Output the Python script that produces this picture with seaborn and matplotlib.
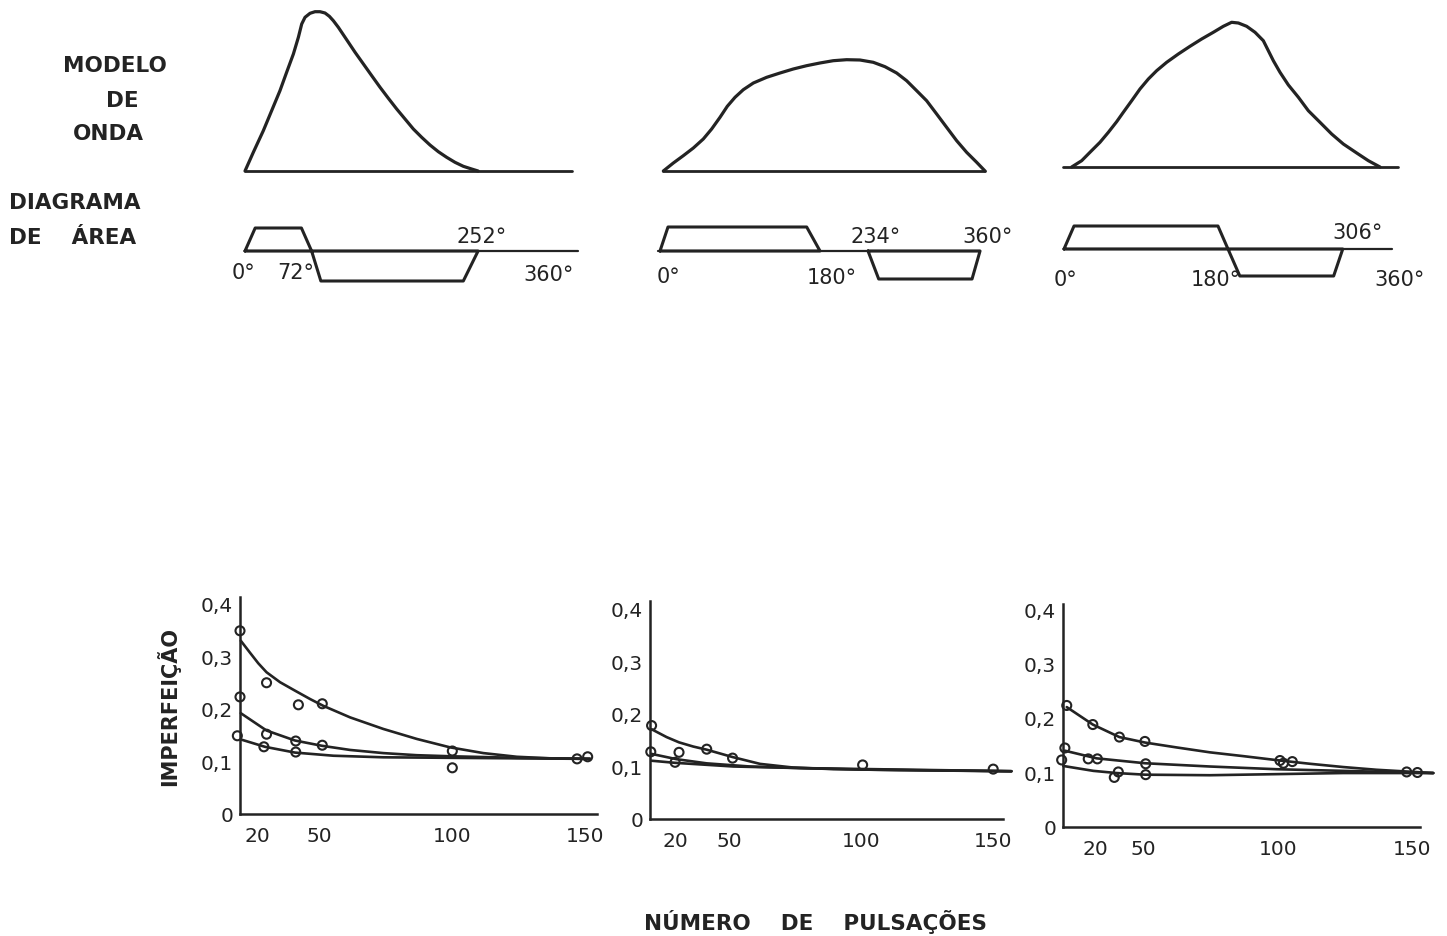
import matplotlib
matplotlib.use("Agg")
import matplotlib.pyplot as plt
import matplotlib.transforms as mtransforms
from matplotlib.ticker import FixedLocator, FixedFormatter
import seaborn as sns

# ---------------- wave shapes (phase in degrees, relative height) ----------------
wave1_deg = [0, 9.0, 19.8, 28.8, 37.8, 45.0, 52.3, 57.7, 61.3, 64.9, 70.3, 75.7, 81.1,
             86.5, 91.2, 95.5, 100.9, 109.9, 119.0, 128.0, 137.0, 146.0, 155.0, 164.0,
             173.0, 182.0, 191.0, 200.0, 209.0, 218.0, 227.0, 236.0, 245.0, 252.0]
wave1_h = [0, 18.7, 40.3, 60.3, 80.3, 98.7, 117.0, 133.7, 147.0, 153.7, 157.7, 159.3,
           159.3, 158.0, 154.7, 150.3, 143.7, 131.3, 118.7, 107.0, 95.3, 83.7, 72.7,
           62.0, 52.0, 42.0, 33.7, 26.0, 19.3, 13.7, 8.7, 4.7, 2.0, 0]

wave2_deg = [3.75, 15.0, 26.2, 37.5, 48.7, 58.1, 67.5, 75.7, 84.4, 93.7, 105.0, 120.0,
             135.0, 149.9, 164.9, 179.9, 194.9, 209.9, 224.9, 239.9, 253.1, 266.2,
             277.4, 288.7, 299.9, 311.2, 322.4, 333.7, 344.9, 356.2, 365.6]
wave2_h = [0, 8.0, 15.3, 23.0, 32.0, 42.0, 53.7, 64.7, 73.7, 81.3, 88.0, 93.7, 98.0,
           102.0, 105.3, 108.0, 110.3, 111.3, 111.0, 108.7, 104.3, 98.0, 90.3, 80.3,
           70.3, 57.0, 43.7, 30.3, 18.7, 8.7, 0]

wave3_deg = [8.4, 19.4, 28.5, 39.5, 48.7, 57.8, 65.1, 74.3, 83.4, 92.6, 101.7, 112.7,
             125.5, 138.3, 151.1, 163.9, 174.9, 184.0, 191.4, 200.5, 209.7, 218.8,
             224.3, 229.8, 237.1, 246.3, 257.3, 268.2, 281.0, 293.8, 306.6, 321.3,
             334.1, 346.9]
wave3_h = [0, 6.3, 14.7, 24.7, 34.7, 45.3, 54.7, 66.3, 78.0, 88.0, 96.3, 104.7, 113.0,
           120.7, 128.0, 134.7, 140.7, 144.7, 144.0, 140.7, 134.7, 126.3, 116.3, 106.3,
           94.7, 82.0, 69.7, 56.3, 44.7, 33.0, 23.0, 14.0, 6.3, 0]

wave_baseline = [(0, 354), (3.7, 365.6), (-1, 366.6)]

# ---------------- area diagrams (trapezoid corners in degrees) ----------------
area1_pos = [0, 11, 61, 72]
area1_neg = [72, 82, 236, 252]
area2_pos = [0, 9, 165, 180]
area2_neg = [234, 246, 351, 360]
area3_pos = [0, 11, 169, 180]
area3_neg = [180, 193, 296, 306]
area_pos_h = [23, 24, 23]
area_neg_h = [30, 28, 27]
area_baseline = [(0, 360), (-2, 360), (0, 360)]

deg_labels1 = [0, 72, 252, 360]
deg_labels2 = [0, 180, 234, 360]
deg_labels3 = [0, 180, 306, 360]

# ---------------- imperfection vs. number of pulses ----------------
pulses1 = [20, 20, 19, 30, 30, 29, 42, 41, 41, 51, 51, 100, 100, 147, 151]
imperf1 = [0.349, 0.223, 0.149, 0.250, 0.152, 0.128, 0.208, 0.139, 0.118, 0.210,
           0.131, 0.120, 0.088, 0.105, 0.109]
fit1a_x = [20.3, 23.8, 26.9, 30, 35.1, 40.7, 46.4, 51.4, 61.5, 74, 86.6, 99.1, 111.7,
           124.3, 136.8, 151.9]
fit1a_y = [0.330, 0.307, 0.287, 0.270, 0.251, 0.235, 0.219, 0.206, 0.184, 0.162, 0.143,
           0.127, 0.116, 0.109, 0.106, 0.105]
fit1b_x = [20.3, 25, 30, 40.7, 50.8, 61.5, 74, 86.6, 99.1, 124.3, 151.9]
fit1b_y = [0.192, 0.176, 0.159, 0.140, 0.130, 0.122, 0.116, 0.112, 0.110, 0.107, 0.105]
fit1c_x = [20.3, 29.4, 40.7, 55.2, 74, 99.1, 124.3, 151.9]
fit1c_y = [0.142, 0.128, 0.117, 0.111, 0.108, 0.107, 0.106, 0.105]

pulses2 = [20.6, 20.3, 29.5, 31, 41.5, 51.3, 100.6, 150.1]
imperf2 = [0.178, 0.128, 0.108, 0.127, 0.133, 0.116, 0.103, 0.095]
fit2a_x = [20.6, 26.3, 31, 36.4, 41.5, 51.3, 61.7, 74.3, 89.5, 114.8, 157]
fit2a_y = [0.171, 0.156, 0.146, 0.138, 0.132, 0.118, 0.105, 0.098, 0.095, 0.093, 0.091]
fit2b_x = [20.6, 30, 41.5, 57.9, 76.9, 102.6, 157]
fit2b_y = [0.124, 0.114, 0.106, 0.100, 0.097, 0.094, 0.091]
fit2c_x = [20.6, 29.5, 51.6, 76.9, 157]
fit2c_y = [0.111, 0.107, 0.100, 0.097, 0.091]

pulses3 = [21.4, 20.7, 19.5, 31.1, 29.4, 32.8, 41.0, 40.6, 39.1, 50.5, 50.8, 50.8,
           100.8, 102.1, 105.4, 148, 152]
imperf3 = [0.223, 0.145, 0.123, 0.188, 0.125, 0.125, 0.165, 0.101, 0.091, 0.157,
           0.116, 0.096, 0.122, 0.117, 0.120, 0.101, 0.100]
fit3a_x = [21.4, 31.1, 41, 50.5, 62.3, 74.7, 87.2, 100.8, 112, 124.4, 136.8, 157.9]
fit3a_y = [0.220, 0.188, 0.165, 0.155, 0.146, 0.137, 0.130, 0.122, 0.116, 0.110, 0.105, 0.099]
fit3b_x = [20.7, 32.5, 50.5, 74.7, 99.6, 124.4, 157.9]
fit3b_y = [0.140, 0.126, 0.117, 0.111, 0.106, 0.103, 0.099]
fit3c_x = [20.1, 31.3, 40, 50.5, 74.7, 99.6, 124.4, 157.9]
fit3c_y = [0.112, 0.103, 0.099, 0.096, 0.095, 0.097, 0.099, 0.099]

x_ticks = [20, 30, 40, 50, 100, 150]
x_ticklabels = ["20", "", "", "50", "100", "150"]
y_ticks = [0, 0.1, 0.2, 0.3, 0.4]
y_ticklabels = ["0", "0,1", "0,2", "0,3", "0,4"]

# ---------------- styling ----------------
sns.set_theme(style="white")
plt.rcParams["font.family"] = ["DejaVu Sans"]
INK = "#232323"
W, H = 1447, 937

fig = plt.figure(figsize=(W / 100, H / 100), dpi=100, facecolor="white")


def px_rect(x0, y0, x1, y1):
    """Pixel box (left, top, right, bottom) -> figure-fraction rect."""
    return [x0 / W, 1 - y1 / H, (x1 - x0) / W, (y1 - y0) / H]


def ftext(px, py, s, **kw):
    fig.text(px / W, 1 - py / H, s, color=INK, ha="center", va="center", **kw)


def draw_line(ax, xs, ys, lw):
    sns.lineplot(x=xs, y=ys, ax=ax, color=INK, linewidth=lw, sort=False,
                 estimator=None, errorbar=None, legend=False,
                 solid_capstyle="round", solid_joinstyle="round")


# ---------------- upper row: wave model + area diagram ----------------
tops = [
    dict(d0=245, s=0.925, wb=172, ab=252,
         lab_pos=[(-2, -21), (55, -21), (256, 15), (328, -23)]),
    dict(d0=660, s=0.889, wb=172, ab=252,
         lab_pos=[(9, -25), (193, -26), (242, 15), (368, 15)]),
    dict(d0=1064, s=0.911, wb=168, ab=250,
         lab_pos=[(2, -30), (167, -30), (322, 17), (368, -30)]),
]
waves = [(wave1_deg, wave1_h), (wave2_deg, wave2_h), (wave3_deg, wave3_h)]
areas = [(area1_pos, area1_neg), (area2_pos, area2_neg), (area3_pos, area3_neg)]
deg_labels = [deg_labels1, deg_labels2, deg_labels3]

for i, t in enumerate(tops):
    lo, hi = -15, 385
    xl, xr = t["d0"] + lo * t["s"], t["d0"] + hi * t["s"]

    # wave model
    axw = fig.add_axes(px_rect(xl, 3, xr, 185))
    axw.set_xlim(lo, hi)
    axw.set_ylim(t["wb"] - 185, t["wb"] - 3)
    axw.axis("off")
    b0, b1 = wave_baseline[i]
    draw_line(axw, [b0, b1], [0, 0], 2.0)
    draw_line(axw, waves[i][0], waves[i][1], 2.3)

    # area diagram
    axa = fig.add_axes(px_rect(xl, 205, xr, 300))
    axa.set_xlim(lo, hi)
    axa.set_ylim(t["ab"] - 300, t["ab"] - 205)
    axa.axis("off")
    a0, a1 = area_baseline[i]
    draw_line(axa, [a0, a1], [0, 0], 1.6)
    pos, neg = areas[i]
    hp, hn = area_pos_h[i], area_neg_h[i]
    draw_line(axa, [pos[0], pos[1], pos[2], pos[3], pos[0]], [0, hp, hp, 0, 0], 2.2)
    draw_line(axa, [neg[0], neg[1], neg[2], neg[3], neg[0]], [0, -hn, -hn, 0, 0], 2.2)
    for val, (lx, ly) in zip(deg_labels[i], t["lab_pos"]):
        axa.text(lx, ly, f"{val}°", color=INK, fontsize=15, ha="center",
                 va="center", clip_on=False)

# row titles on the left
ftext(115, 66, "MODELO", fontsize=15.5, fontweight="bold")
ftext(122, 101, "DE", fontsize=15.5, fontweight="bold")
ftext(108, 134, "ONDA", fontsize=15.5, fontweight="bold")
fig.text(9 / W, 1 - 203 / H, "DIAGRAMA", color=INK, fontsize=15.5,
         fontweight="bold", ha="left", va="center")
fig.text(9 / W, 1 - 238 / H, "DE    ÁREA", color=INK, fontsize=15.5,
         fontweight="bold", ha="left", va="center")

# ---------------- lower row: imperfection curves ----------------
panels = [
    dict(x0=240, x1=597, sx=2.654, y0=815, y1=598, sy=525, dx20=17),
    dict(x0=650, x1=1003, sx=2.638, y0=820, y1=602, sy=525, dx20=25),
    dict(x0=1063, x1=1420, sx=2.685, y0=828, y1=605, sy=545, dx20=32),
]
points = [(pulses1, imperf1), (pulses2, imperf2), (pulses3, imperf3)]
fits = [
    [(fit1a_x, fit1a_y), (fit1b_x, fit1b_y), (fit1c_x, fit1c_y)],
    [(fit2a_x, fit2a_y), (fit2b_x, fit2b_y), (fit2c_x, fit2c_y)],
    [(fit3a_x, fit3a_y), (fit3b_x, fit3b_y), (fit3c_x, fit3c_y)],
]

for i, p in enumerate(panels):
    ax = fig.add_axes(px_rect(p["x0"], p["y1"], p["x1"], p["y0"]))
    ax.set_facecolor("none")
    for fx, fy in fits[i]:
        draw_line(ax, fx, fy, 1.9)
    sns.scatterplot(x=points[i][0], y=points[i][1], ax=ax, s=42, marker="o",
                    color=INK, facecolor="none", edgecolor=INK, linewidth=1.5,
                    zorder=4, legend=False)
    for ln in ax.lines:
        ln.set_clip_on(False)
    for coll in ax.collections:
        coll.set_clip_on(False)

    ax.set_xlim(20, 20 + (p["x1"] - p["x0"]) / p["sx"])
    ax.set_ylim(0, (p["y0"] - p["y1"]) / p["sy"])
    sns.despine(ax=ax)
    for side in ("left", "bottom"):
        ax.spines[side].set_color(INK)
        ax.spines[side].set_linewidth(1.8)
    ax.xaxis.set_major_locator(FixedLocator(x_ticks))
    ax.xaxis.set_major_formatter(FixedFormatter(x_ticklabels))
    ax.yaxis.set_major_locator(FixedLocator(y_ticks))
    ax.yaxis.set_major_formatter(FixedFormatter(y_ticklabels))
    ax.tick_params(axis="both", direction="in", length=5, width=1.5, colors=INK,
                   labelsize=14.5, labelcolor=INK)
    ax.tick_params(axis="x", pad=9)
    ax.tick_params(axis="y", pad=5)
    ax.grid(False)
    ax.set_xlabel("")
    ax.set_ylabel("")
    # the "20" label sits a little to the right of the corner
    shift = mtransforms.ScaledTranslation(p["dx20"] / 100, 0, fig.dpi_scale_trans)
    lab20 = ax.get_xticklabels()[0]
    lab20.set_transform(lab20.get_transform() + shift)

fig.text(168 / W, 1 - 706 / H, "IMPERFEIÇÃO", color=INK, fontsize=15,
         fontweight="bold", rotation=90, ha="center", va="center")
ftext(815, 922, "NÚMERO    DE    PULSAÇÕES", fontsize=15.5, fontweight="bold")

fig.savefig("out.png", dpi=100, facecolor="white")
